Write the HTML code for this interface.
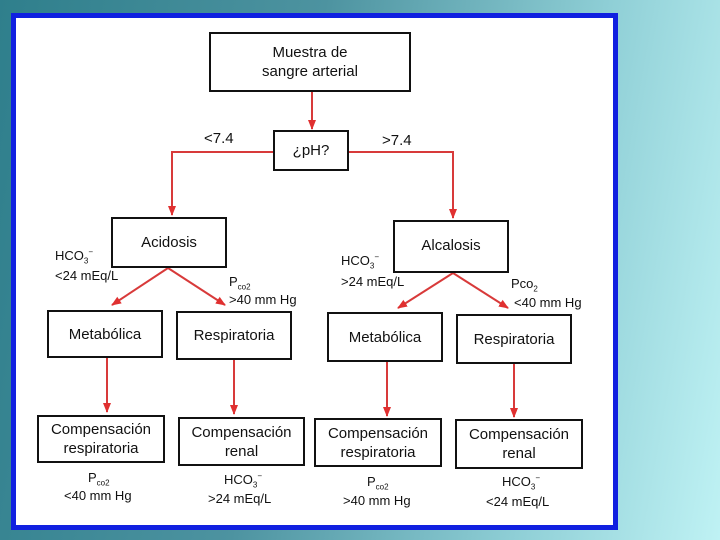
<!DOCTYPE html>
<html><head><meta charset="utf-8"><style>
html,body{margin:0;padding:0}
body{width:720px;height:540px;position:relative;overflow:hidden;background:linear-gradient(100deg,#2f7f8c 0%,#4d93a0 40%,#8fcfd6 75%,#bff2f4 100%);font-family:"Liberation Sans",sans-serif}
#frame{position:absolute;left:11px;top:13px;width:597px;height:507px;border:5px solid #1020e0;background:#fff}
.b{position:absolute;border:2px solid #111;box-sizing:border-box;display:flex;align-items:center;justify-content:center;text-align:center;font-size:15px;line-height:19px;color:#111;background:#fff}
.t{position:absolute;font-size:13px;line-height:16px;color:#111;white-space:nowrap}
svg{position:absolute;left:0;top:0}
sub,sup{font-size:8px;line-height:0}
</style></head><body>
<div id="frame"></div>
<svg width="720" height="540">
<defs><marker id="a" markerWidth="10" markerHeight="10" refX="9" refY="5" orient="auto" markerUnits="userSpaceOnUse"><path d="M0,1 L10,5 L0,9 Z" fill="#e03030"/></marker></defs>
<g stroke="#d83a3a" stroke-width="2" fill="none" marker-end="url(#a)">
<path d="M312 92 V129"/>
<path d="M273 152 H172 V215"/>
<path d="M349 152 H453 V218"/>
<path d="M168 268 L112 305"/>
<path d="M168 268 L225 305"/>
<path d="M453 273 L398 308"/>
<path d="M453 273 L508 308"/>
<path d="M107 358 V412"/>
<path d="M234 360 V414"/>
<path d="M387 362 V416"/>
<path d="M514 364 V417"/>
</g></svg>
<div class="b" style="left:209px;top:32px;width:202px;height:60px">Muestra de<br>sangre arterial</div>
<div class="b" style="left:273px;top:130px;width:76px;height:41px">¿pH?</div>
<div class="t" style="left:204px;top:131px;font-size:15px">&lt;7.4</div>
<div class="t" style="left:382px;top:133px;font-size:15px">&gt;7.4</div>
<div class="b" style="left:111px;top:217px;width:116px;height:51px;align-items:flex-start;padding-top:14px">Acidosis</div>
<div class="b" style="left:393px;top:220px;width:116px;height:53px;align-items:flex-start;padding-top:14px">Alcalosis</div>
<div class="t" style="left:55px;top:248px">HCO<sub>3</sub><sup>−</sup></div>
<div class="t" style="left:55px;top:268px">&lt;24 mEq/L</div>
<div class="t" style="left:229px;top:274px">P<sub>co2</sub></div>
<div class="t" style="left:229px;top:292px">&gt;40 mm Hg</div>
<div class="t" style="left:341px;top:253px">HCO<sub>3</sub><sup>−</sup></div>
<div class="t" style="left:341px;top:274px">&gt;24 mEq/L</div>
<div class="t" style="left:511px;top:276px">Pco<sub>2</sub></div>
<div class="t" style="left:514px;top:295px">&lt;40 mm Hg</div>
<div class="b" style="left:47px;top:310px;width:116px;height:48px">Metabólica</div>
<div class="b" style="left:176px;top:311px;width:116px;height:49px">Respiratoria</div>
<div class="b" style="left:327px;top:312px;width:116px;height:50px">Metabólica</div>
<div class="b" style="left:456px;top:314px;width:116px;height:50px">Respiratoria</div>
<div class="b" style="left:37px;top:415px;width:128px;height:48px">Compensación<br>respiratoria</div>
<div class="b" style="left:178px;top:417px;width:127px;height:49px">Compensación<br>renal</div>
<div class="b" style="left:314px;top:418px;width:128px;height:49px">Compensación<br>respiratoria</div>
<div class="b" style="left:455px;top:419px;width:128px;height:50px">Compensación<br>renal</div>
<div class="t" style="left:88px;top:470px">P<sub>co2</sub></div>
<div class="t" style="left:64px;top:488px">&lt;40 mm Hg</div>
<div class="t" style="left:224px;top:472px">HCO<sub>3</sub><sup>−</sup></div>
<div class="t" style="left:208px;top:491px">&gt;24 mEq/L</div>
<div class="t" style="left:367px;top:474px">P<sub>co2</sub></div>
<div class="t" style="left:343px;top:493px">&gt;40 mm Hg</div>
<div class="t" style="left:502px;top:474px">HCO<sub>3</sub><sup>−</sup></div>
<div class="t" style="left:486px;top:494px">&lt;24 mEq/L</div>
</body></html>
